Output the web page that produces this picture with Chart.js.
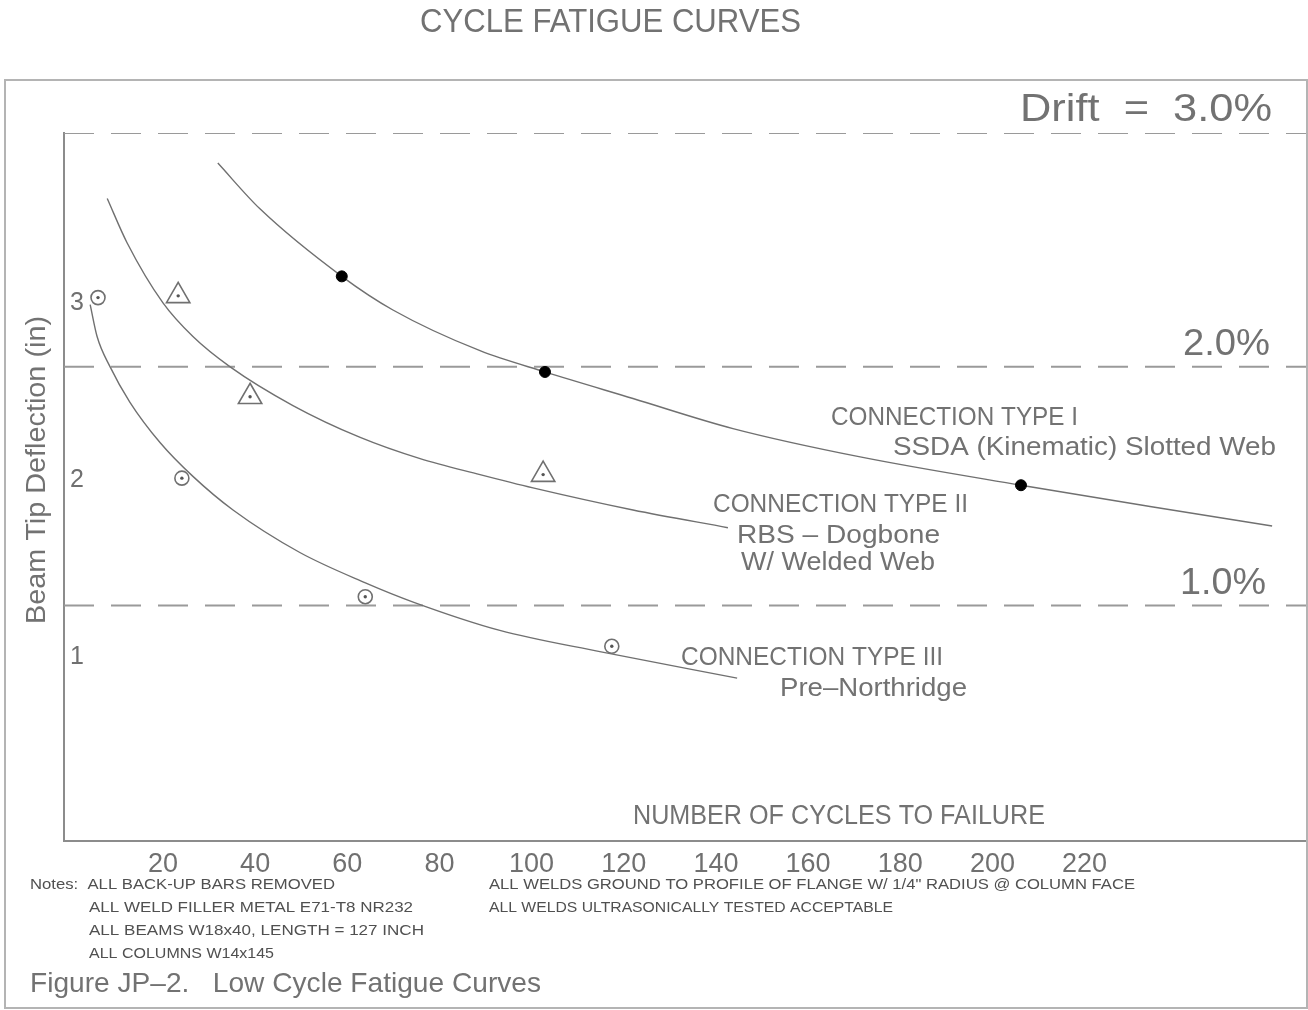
<!DOCTYPE html>
<html>
<head>
<meta charset="utf-8">
<title>Low Cycle Fatigue Curves</title>
<script src="https://cdn.jsdelivr.net/npm/chart.js@4.4.1/dist/chart.umd.min.js"></script>
<style>
  html, body { margin: 0; padding: 0; background: #fff; }
  #wrap { width: 1308px; height: 1010px; }
</style>
</head>
<body>
<div id="wrap"><canvas id="fatigueChart" width="1308" height="1010"></canvas></div>
<script>
// number of cycles to failure (x) vs beam tip deflection in inches (y)
const typeICurveX = [31.9, 41.1, 58.8, 69.9, 88.8, 102.9, 122.0, 143.7, 171.3, 206.2, 234.2, 260.7];
const typeICurveY = [3.79, 3.53, 3.15, 2.96, 2.73, 2.61, 2.46, 2.29, 2.13, 1.97, 1.85, 1.74];
const typeIICurveX = [7.9, 12.2, 20.0, 26.5, 34.5, 48.2, 62.8, 75.8, 88.8, 100.3, 122.0, 142.6];
const typeIICurveY = [3.59, 3.34, 3.00, 2.81, 2.64, 2.42, 2.24, 2.12, 2.03, 1.955, 1.83, 1.73];
const typeIIICurveX = [4.2, 5.7, 8.5, 12.8, 19.4, 26.5, 35.2, 49.7, 63.8, 74.3, 93.1, 114.8, 144.6];
const typeIIICurveY = [2.99, 2.81, 2.64, 2.44, 2.21, 2.02, 1.83, 1.59, 1.42, 1.31, 1.15, 1.03, 0.88];

// test results
const typeITestX = [58.8, 102.9, 206.2];
const typeITestY = [3.15, 2.61, 1.97];
const typeIITestX = [23.3, 38.9, 102.5];
const typeIITestY = [3.04, 2.47, 2.03];
const typeIIITestX = [5.9, 24.1, 63.9, 117.4];
const typeIIITestY = [3.03, 2.01, 1.34, 1.06];

// drift lines (deflection in inches where drift is reached)
const driftLevels = [1.29, 2.64, 3.96];
const driftLabels = ['1.0%', '2.0%', 'Drift  =  3.0%'];

const xTicks = [20, 40, 60, 80, 100, 120, 140, 160, 180, 200, 220];
const yTicks = [1, 2, 3];
const xMin = -1.48, xMax = 268.27;
const yMin = -0.04, yMax = 3.96;

const FONT = '"Liberation Sans", "DejaVu Sans", sans-serif';
const INK = '#727272';

function pairs(xs, ys) {
  return xs.map(function(x, i) { return { x: x, y: ys[i] }; });
}

// CAD text is narrow, so squeeze each string to the width it has in the drawing
function cadText(ctx, text, x, y, w, size, color) {
  ctx.save();
  ctx.font = size + 'px ' + FONT;
  ctx.fillStyle = color || INK;
  ctx.textAlign = 'left';
  ctx.textBaseline = 'alphabetic';
  const m = ctx.measureText(text).width;
  ctx.translate(x, y);
  ctx.scale(w / m, 1);
  ctx.fillText(text, 0, 0);
  ctx.restore();
}

const drawingText = {
  id: 'drawingText',
  afterDraw(chart) {
    const ctx = chart.ctx;
    const yScale = chart.scales.y;

    // sheet border
    ctx.save();
    ctx.strokeStyle = '#b4b4b4';
    ctx.lineWidth = 2;
    ctx.strokeRect(5, 80, 1302, 928);
    ctx.restore();

    cadText(ctx, 'CYCLE FATIGUE CURVES', 420, 32, 381, 33);

    // drift labels sit just above their dashed lines
    const driftPos = [[1180, 86, 36], [1183, 87, 36], [1020, 252, 38]];
    driftLabels.forEach(function(lbl, i) {
      const p = driftPos[i];
      cadText(ctx, lbl, p[0], yScale.getPixelForValue(driftLevels[i]) - 12, p[1], p[2]);
    });

    cadText(ctx, 'CONNECTION TYPE I', 831, 425, 247, 25);
    cadText(ctx, 'SSDA (Kinematic) Slotted Web', 893, 455, 383, 25);
    cadText(ctx, 'CONNECTION TYPE II', 713, 512, 255, 25);
    cadText(ctx, 'RBS – Dogbone', 737, 543, 203, 25);
    cadText(ctx, 'W/ Welded Web', 741, 570, 194, 25);
    cadText(ctx, 'CONNECTION TYPE III', 681, 665, 262, 25);
    cadText(ctx, 'Pre–Northridge', 780, 696, 187, 25);
    cadText(ctx, 'NUMBER OF CYCLES TO FAILURE', 633, 824, 412, 27);

    // y axis title, rotated
    ctx.save();
    ctx.translate(45, 624);
    ctx.rotate(-Math.PI / 2);
    cadText(ctx, 'Beam Tip Deflection (in)', 0, 0, 308, 27);
    ctx.restore();

    const noteInk = '#505050';
    cadText(ctx, 'Notes:  ALL BACK-UP BARS REMOVED', 30, 889, 305, 15, noteInk);
    cadText(ctx, 'ALL WELD FILLER METAL E71-T8 NR232', 89, 912, 324, 15, noteInk);
    cadText(ctx, 'ALL BEAMS W18x40, LENGTH = 127 INCH', 89, 935, 335, 15, noteInk);
    cadText(ctx, 'ALL COLUMNS W14x145', 89, 958, 185, 15, noteInk);
    cadText(ctx, 'ALL WELDS GROUND TO PROFILE OF FLANGE W/ 1/4" RADIUS @ COLUMN FACE', 489, 889, 646, 15, noteInk);
    cadText(ctx, 'ALL WELDS ULTRASONICALLY TESTED ACCEPTABLE', 489, 912, 404, 15, noteInk);

    cadText(ctx, 'Figure JP–2.   Low Cycle Fatigue Curves', 30, 992, 511, 28);
  }
};

const curveStyle = {
  showLine: true,
  borderColor: '#707070',
  borderWidth: 1.4,
  pointRadius: 0,
  cubicInterpolationMode: 'monotone',
  fill: false,
  order: 2
};

const datasets = [];

driftLevels.forEach(function(lvl) {
  datasets.push({
    label: 'drift',
    data: [{ x: xMin, y: lvl }, { x: xMax, y: lvl }],
    showLine: true,
    borderColor: '#9a9a9a',
    borderWidth: 2,
    borderDash: [30, 17],
    pointRadius: 0,
    order: 3
  });
});

datasets.push(Object.assign({ label: 'Connection Type I', data: pairs(typeICurveX, typeICurveY) }, curveStyle));
datasets.push(Object.assign({ label: 'Connection Type II', data: pairs(typeIICurveX, typeIICurveY) }, curveStyle));
datasets.push(Object.assign({ label: 'Connection Type III', data: pairs(typeIIICurveX, typeIIICurveY) }, curveStyle));

datasets.push({
  label: 'Type I tests',
  data: pairs(typeITestX, typeITestY),
  pointStyle: 'circle',
  pointRadius: 5.5,
  backgroundColor: '#000',
  borderColor: '#000',
  borderWidth: 1,
  order: 1
});
datasets.push({
  label: 'Type II tests',
  data: pairs(typeIITestX, typeIITestY),
  pointStyle: 'triangle',
  pointRadius: 13.5,
  backgroundColor: 'rgba(255,255,255,0)',
  borderColor: '#707070',
  borderWidth: 1.6,
  order: 1
});
datasets.push({
  label: 'Type III tests',
  data: pairs(typeIIITestX, typeIIITestY),
  pointStyle: 'circle',
  pointRadius: 7,
  backgroundColor: '#fff',
  borderColor: '#707070',
  borderWidth: 1.6,
  order: 1
});
// centre dots of the open markers
datasets.push({
  label: 'marker dots',
  data: pairs(typeIITestX, typeIITestY).concat(pairs(typeIIITestX, typeIIITestY)),
  pointStyle: 'circle',
  pointRadius: 1.7,
  backgroundColor: '#555',
  borderWidth: 0,
  order: 0
});

new Chart(document.getElementById('fatigueChart').getContext('2d'), {
  type: 'scatter',
  data: { datasets: datasets },
  options: {
    responsive: false,
    animation: false,
    layout: { autoPadding: false, padding: { top: 133, right: 1, left: 0, bottom: 0 } },
    plugins: {
      legend: { display: false },
      tooltip: { enabled: false },
      title: { display: false }
    },
    scales: {
      x: {
        type: 'linear',
        min: xMin,
        max: xMax,
        afterBuildTicks: function(scale) {
          scale.ticks = xTicks.map(function(v) { return { value: v }; });
        },
        afterFit: function(scale) {
          scale.height = 169;
          scale.paddingLeft = 0;
          scale.paddingRight = 0;
        },
        grid: { display: false, drawTicks: false },
        border: { display: true, color: '#8c8c8c', width: 2 },
        ticks: {
          color: '#707070',
          padding: 7,
          maxRotation: 0,
          autoSkip: false,
          font: { family: FONT, size: 27 }
        }
      },
      y: {
        type: 'linear',
        min: yMin,
        max: yMax,
        afterBuildTicks: function(scale) {
          scale.ticks = yTicks.map(function(v) { return { value: v }; });
        },
        afterFit: function(scale) {
          scale.width = 64;
          scale.paddingTop = 0;
          scale.paddingBottom = 0;
        },
        grid: { display: false, drawTicks: false },
        border: { display: true, color: '#8c8c8c', width: 2 },
        ticks: {
          mirror: true,
          color: '#707070',
          padding: 6,
          font: { family: FONT, size: 25 }
        }
      }
    }
  },
  plugins: [drawingText]
});
</script>
</body>
</html>
